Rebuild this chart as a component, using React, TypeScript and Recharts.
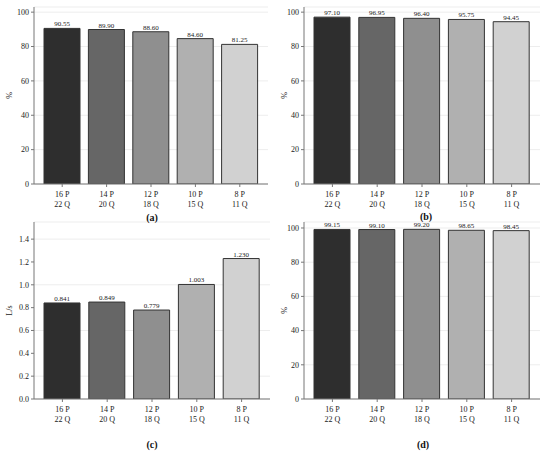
import React from 'react';
import { BarChart, Bar, XAxis, YAxis, CartesianGrid, Cell, LabelList, Label } from 'recharts';

const categoriesP = ['16 P', '14 P', '12 P', '10 P', '8 P'];
const categoriesQ = ['22 Q', '20 Q', '18 Q', '15 Q', '11 Q'];
const valuesA = [90.55, 89.9, 88.6, 84.6, 81.25];
const valuesB = [97.1, 96.95, 96.4, 95.75, 94.45];
const valuesC = [0.841, 0.849, 0.779, 1.003, 1.23];
const valuesD = [99.15, 99.1, 99.2, 98.65, 98.45];
const barColors = ['#2e2e2e', '#666666', '#8f8f8f', '#b0b0b0', '#d1d1d1'];
const pctTicks = [0, 20, 40, 60, 80, 100];
const flowTicks = [0, 0.2, 0.4, 0.6, 0.8, 1.0, 1.2, 1.4];

const FONT = '"Liberation Serif", "DejaVu Serif", serif';

const makeData = (vals: number[]) =>
  vals.map((v, i) => ({ name: categoriesP[i] + '|' + categoriesQ[i], value: v }));

const XTick = (props: any) => {
  const { x, y, payload } = props;
  const [l1, l2] = String(payload.value).split('|');
  return (
    <g transform={`translate(${x},${y})`}>
      <text x={0} y={0} textAnchor="middle" fontFamily={FONT} fontSize={8} fill="#222">
        <tspan x={0} dy={8}>{l1}</tspan>
        <tspan x={0} dy={10}>{l2}</tspan>
      </text>
    </g>
  );
};

const YLabel = (text: string) => (props: any) => {
  const vb = props.viewBox || {};
  const cy = vb.y + vb.height / 2;
  const cx = 9;
  return (
    <text x={cx} y={cy} transform={`rotate(-90, ${cx}, ${cy})`} textAnchor="middle" dominantBaseline="central" fontFamily={FONT} fontSize={8} fill="#222">
      {text}
    </text>
  );
};

type PanelProps = {
  left: number;
  top: number;
  yAxisWidth: number;
  rightMargin: number;
  data: { name: string; value: number }[];
  domain: [number, number];
  ticks: number[];
  tickFmt: (v: number) => string;
  labelFmt: (v: number) => string;
  yLabel: string;
};

const Panel = ({ left, top, yAxisWidth, rightMargin, data, domain, ticks, tickFmt, labelFmt, yLabel }: PanelProps) => (
  <div style={{ position: 'absolute', left, top }}>
    <BarChart
      width={275}
      height={210}
      data={data}
      margin={{ top: 7, right: rightMargin, left: 0, bottom: 0 }}
      barSize={36}
    >
      <CartesianGrid vertical={false} stroke="#ededed" strokeWidth={1} />
      <XAxis
        dataKey="name"
        height={26}
        tick={<XTick />}
        tickLine={{ stroke: '#777' }}
        tickSize={3}
        axisLine={{ stroke: '#777' }}
        interval={0}
        padding={{ left: 6, right: 6 }}
      />
      <YAxis
        width={yAxisWidth}
        domain={domain}
        ticks={ticks}
        tickFormatter={tickFmt}
        tick={{ fontFamily: FONT, fontSize: 8, fill: '#222' }}
        tickLine={{ stroke: '#777' }}
        tickSize={3}
        axisLine={{ stroke: '#777' }}
        allowDataOverflow
      >
        <Label content={YLabel(yLabel)} />
      </YAxis>
      <Bar dataKey="value" isAnimationActive={false} stroke="#333" strokeWidth={1}>
        {data.map((_, i) => (
          <Cell key={i} fill={barColors[i]} />
        ))}
        <LabelList
          dataKey="value"
          position="top"
          offset={2}
          formatter={(v: any) => labelFmt(Number(v))}
          style={{ fontFamily: FONT, fontSize: 7, fill: '#222' }}
        />
      </Bar>
    </BarChart>
  </div>
);

const Caption = ({ x, y, text }: { x: number; y: number; text: string }) => (
  <div
    style={{
      position: 'absolute',
      left: x - 20,
      top: y - 7,
      width: 40,
      textAlign: 'center',
      fontFamily: FONT,
      fontWeight: 'bold',
      fontSize: 10,
      lineHeight: '14px',
      color: '#111',
    }}
  >
    {text}
  </div>
);

export default function App() {
  return (
    <div style={{ position: 'absolute', left: 0, top: 0, width: 550, height: 457, background: '#fff', overflow: 'hidden' }}>
      <Panel left={0} top={0} yAxisWidth={34} rightMargin={7} data={makeData(valuesA)} domain={[0, 103]} ticks={pctTicks}
        tickFmt={(v) => String(v)} labelFmt={(v) => v.toFixed(2)} yLabel="%" />
      <Panel left={275} top={0} yAxisWidth={29} rightMargin={10} data={makeData(valuesB)} domain={[0, 103]} ticks={pctTicks}
        tickFmt={(v) => String(v)} labelFmt={(v) => v.toFixed(2)} yLabel="%" />
      <Panel left={0} top={215} yAxisWidth={34} rightMargin={5} data={makeData(valuesC)} domain={[0, 1.55]} ticks={flowTicks}
        tickFmt={(v) => v.toFixed(1)} labelFmt={(v) => v.toFixed(3)} yLabel="L/s" />
      <Panel left={275} top={215} yAxisWidth={29} rightMargin={10} data={makeData(valuesD)} domain={[0, 103.5]} ticks={pctTicks}
        tickFmt={(v) => String(v)} labelFmt={(v) => v.toFixed(2)} yLabel="%" />
      <Caption x={152} y={218} text="(a)" />
      <Caption x={426} y={217} text="(b)" />
      <Caption x={152} y={445} text="(c)" />
      <Caption x={423} y={445} text="(d)" />
    </div>
  );
}
